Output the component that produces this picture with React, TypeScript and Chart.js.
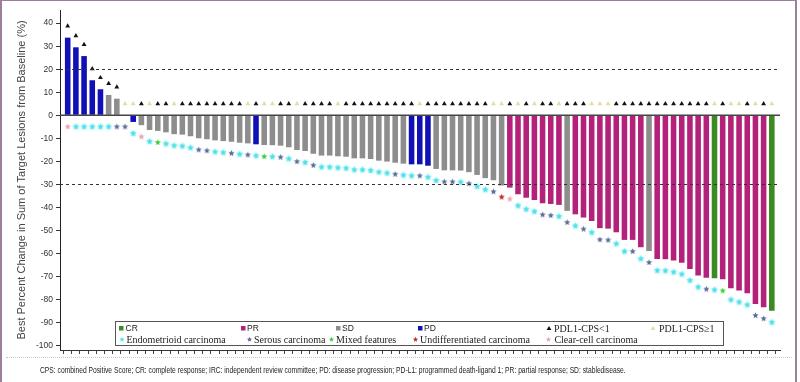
import React, { useEffect, useLayoutEffect, useRef } from "react";
import { Chart, registerables } from "chart.js";

Chart.register(...registerables);

// Best percent change per patient (sorted waterfall order)
const bestChange: number[] = [
  33.7, 29.5, 25.7, 15.2, 11.3, 8.8, 7.2, 0, -2.9, -4.3,
  -6.4, -6.8, -7.4, -8.2, -8.4, -9.1, -10.0, -10.4, -10.9, -11.2,
  -11.5, -11.9, -12.2, -12.6, -12.9, -13.0, -13.2, -13.9, -15.1, -15.5,
  -16.7, -17.5, -17.5, -17.8, -18.0, -18.7, -18.7, -19.0, -19.7, -20.1,
  -20.6, -21.0, -21.3, -21.3, -21.9, -23.3, -23.9, -23.9, -24.0, -24.7,
  -25.9, -27.3, -28.2, -30.5, -31.4, -34.3, -35.8, -36.8, -38.2, -38.5,
  -38.9, -41.5, -43.0, -44.4, -45.9, -49.0, -49.2, -50.8, -54.1, -54.1,
  -57.3, -58.9, -62.4, -62.5, -63.1, -64.0, -66.7, -69.6, -70.5, -70.8,
  -71.2, -75.1, -76.1, -77.3, -81.9, -83.3, -84.9,
];

// Best overall response per patient
const response: string[] = [
  "PD", "PD", "PD", "PD", "PD", "SD", "SD", "SD", "PD", "SD",
  "SD", "SD", "SD", "SD", "SD", "SD", "SD", "SD", "SD", "SD",
  "SD", "SD", "SD", "PD", "SD", "SD", "SD", "SD", "SD", "SD",
  "SD", "SD", "SD", "SD", "SD", "SD", "SD", "SD", "SD", "SD",
  "SD", "SD", "PD", "PD", "PD", "SD", "SD", "SD", "SD", "SD",
  "SD", "SD", "SD", "SD", "PR", "PR", "PR", "PR", "PR", "PR",
  "PR", "SD", "PR", "PR", "PR", "PR", "PR", "PR", "PR", "PR",
  "PR", "SD", "PR", "PR", "PR", "PR", "PR", "PR", "PR", "CR",
  "PR", "PR", "PR", "PR", "PR", "PR", "CR",
];

// PD-L1 status: L = CPS<1, H = CPS>=1
const pdl1: string[] = [
  "L", "L", "L", "L", "L", "L", "L", "H", "H", "L",
  "H", "L", "L", "H", "L", "L", "L", "L", "L", "L",
  "L", "L", "H", "L", "H", "H", "L", "L", "H", "L",
  "L", "L", "L", "H", "L", "L", "L", "L", "L", "L",
  "L", "L", "L", "H", "L", "L", "L", "L", "L", "L",
  "L", "L", "H", "H", "L", "H", "L", "H", "L", "L",
  "H", "L", "L", "L", "H", "H", "H", "L", "L", "L",
  "L", "L", "L", "L", "L", "L", "L", "L", "L", "H",
  "L", "H", "H", "L", "H", "L", "H",
];

// Histology: E endometrioid, S serous, M mixed, U undifferentiated, C clear-cell
const histology: string[] = [
  "C", "E", "E", "E", "E", "E", "S", "S", "E", "C",
  "E", "M", "E", "E", "E", "E", "S", "S", "E", "E",
  "S", "E", "S", "E", "M", "E", "S", "E", "S", "E",
  "S", "E", "E", "E", "E", "E", "E", "E", "E", "E",
  "S", "E", "E", "S", "E", "E", "S", "S", "E", "S",
  "E", "E", "S", "U", "C", "E", "E", "E", "S", "S",
  "E", "S", "E", "S", "E", "S", "S", "E", "E", "S",
  "E", "S", "E", "E", "E", "E", "E", "E", "S", "E",
  "M", "E", "E", "E", "S", "S", "E",
];

const yTicks: number[] = [40, 30, 20, 10, 0, -10, -20, -30, -40, -50, -60, -70, -80, -90, -100];
const refLines: number[] = [20, -30];

const yTitle = "Best Percent Change in Sum of Target Lesions from Baseline (%)";
const footnote =
  "CPS: combined Positive Score; CR: complete response; IRC: independent review committee; PD: disease progression; PD-L1: programmed death-ligand 1; PR: partial response; SD: stabledisease.";

const responseColors: Record<string, string> = {
  CR: "#3b8a22",
  PR: "#b3217b",
  SD: "#8d8d8d",
  PD: "#1010b6",
};
const pdl1Colors: Record<string, string> = { L: "#111111", H: "#e3dca4" };
const histColors: Record<string, string> = {
  E: "#52e0e8",
  S: "#5b6d9c",
  M: "#3dd03d",
  U: "#c42a2a",
  C: "#eaa4b4",
};

const responseLegend = [
  { key: "CR", label: "CR", sq: 119, tx: 125.5 },
  { key: "PR", label: "PR", sq: 241, tx: 247 },
  { key: "SD", label: "SD", sq: 336, tx: 342 },
  { key: "PD", label: "PD", sq: 418, tx: 424 },
];
const pdl1Legend = [
  { key: "L", label: "PDL1-CPS<1", mk: 549, tx: 554 },
  { key: "H", label: "PDL1-CPS\u22651", mk: 653, tx: 659 },
];
const histLegend = [
  { key: "E", label: "Endometrioid carcinoma", mk: 122, tx: 126.5 },
  { key: "S", label: "Serous carcinoma", mk: 249.5, tx: 254 },
  { key: "M", label: "Mixed features", mk: 331.5, tx: 336 },
  { key: "U", label: "Undifferentiated carcinoma", mk: 415.5, tx: 420 },
  { key: "C", label: "Clear-cell carcinoma", mk: 548.5, tx: 554.4 },
];

function starPath(ctx: CanvasRenderingContext2D, cx: number, cy: number, r: number) {
  ctx.beginPath();
  for (let k = 0; k < 10; k++) {
    const rad = k % 2 === 0 ? r : r * 0.45;
    const a = -Math.PI / 2 + (k * Math.PI) / 5;
    const px = cx + rad * Math.cos(a);
    const py = cy + rad * Math.sin(a);
    if (k === 0) ctx.moveTo(px, py);
    else ctx.lineTo(px, py);
  }
  ctx.closePath();
}

function makeStar(color: string, r: number, glow: boolean): HTMLCanvasElement {
  const size = Math.ceil(r * 2 + 6);
  const c = document.createElement("canvas");
  c.width = size;
  c.height = size;
  const ctx = c.getContext("2d")!;
  if (glow) {
    ctx.shadowColor = color;
    ctx.shadowBlur = 2.5;
  }
  starPath(ctx, size / 2, size / 2, r);
  ctx.fillStyle = color;
  ctx.fill();
  return c;
}

export default function App() {
  const canvasRef = useRef<HTMLCanvasElement>(null);
  const noteRef = useRef<HTMLSpanElement>(null);

  useLayoutEffect(() => {
    const el = noteRef.current;
    if (!el) return;
    const w = el.offsetWidth;
    if (w > 0) el.style.transform = `scaleX(${586 / w})`;
  }, []);

  useEffect(() => {
    const canvas = canvasRef.current;
    if (!canvas) return;

    const starImgs: Record<string, HTMLCanvasElement> = {};
    Object.keys(histColors).forEach((k) => {
      starImgs[k] = makeStar(histColors[k], 3.3, k === "E");
    });

    const barData = bestChange.map((v, i) => ({ x: i, y: v }));
    const triData = bestChange.map((v, i) => ({ x: i, y: Math.max(v, 0) + 5 }));
    const starData = bestChange.map((v, i) => ({ x: i, y: Math.min(v, 0) - 5 }));

    const overlay = {
      id: "overlay",
      afterDatasetsDraw(chart: any) {
        const { ctx, chartArea, scales } = chart;
        const ys = scales.y;
        ctx.save();
        ctx.strokeStyle = "#333";
        ctx.lineWidth = 1;
        ctx.setLineDash([3, 3]);
        refLines.forEach((v) => {
          const y = Math.round(ys.getPixelForValue(v)) + 0.5;
          ctx.beginPath();
          ctx.moveTo(chartArea.left, y);
          ctx.lineTo(chartArea.right, y);
          ctx.stroke();
        });
        ctx.setLineDash([]);
        ctx.strokeStyle = "#444";
        ctx.lineWidth = 1.3;
        const y0 = ys.getPixelForValue(0);
        ctx.beginPath();
        ctx.moveTo(chartArea.left, y0);
        ctx.lineTo(chartArea.right, y0);
        ctx.stroke();
        ctx.restore();
      },
      afterDraw(chart: any) {
        const { ctx } = chart;
        ctx.save();
        const bx = 115.5, by = 321.5, bw = 608, bh = 24;
        ctx.fillStyle = "#ffffff";
        ctx.fillRect(bx, by, bw, bh);
        ctx.strokeStyle = "#555";
        ctx.lineWidth = 1;
        ctx.strokeRect(bx, by, bw, bh);
        const r1 = 328.5, r2 = 339.5;
        ctx.textBaseline = "middle";
        ctx.textAlign = "left";
        ctx.fillStyle = "#222";
        ctx.font = "8.5px 'Liberation Sans', Arial, sans-serif";
        responseLegend.forEach((it) => {
          ctx.fillStyle = responseColors[it.key];
          ctx.fillRect(it.sq, r1 - 2.5, 4.5, 4.5);
          ctx.fillStyle = "#222";
          ctx.fillText(it.label, it.tx, r1 + 0.5);
        });
        ctx.font = "10px 'Liberation Serif', 'Times New Roman', serif";
        pdl1Legend.forEach((it) => {
          ctx.fillStyle = pdl1Colors[it.key];
          ctx.beginPath();
          ctx.moveTo(it.mk, r1 - 2.6);
          ctx.lineTo(it.mk + 2.4, r1 + 1.6);
          ctx.lineTo(it.mk - 2.4, r1 + 1.6);
          ctx.closePath();
          ctx.fill();
          ctx.fillStyle = "#222";
          ctx.fillText(it.label, it.tx, r1 + 0.5);
        });
        histLegend.forEach((it) => {
          ctx.fillStyle = histColors[it.key];
          starPath(ctx, it.mk, r2, 2.7);
          ctx.fill();
          ctx.fillStyle = "#222";
          ctx.fillText(it.label, it.tx, r2 + 0.5);
        });
        ctx.restore();
      },
    };

    const chart = new Chart(canvas, {
      type: "bar",
      data: {
        datasets: [
          {
            type: "scatter",
            label: "PD-L1",
            data: triData,
            pointStyle: "triangle",
            pointRadius: 2.8,
            pointBorderWidth: 0,
            pointBackgroundColor: pdl1.map((p) => pdl1Colors[p]),
            pointBorderColor: pdl1.map((p) => pdl1Colors[p]),
            order: 1,
          } as any,
          {
            type: "scatter",
            label: "Histology",
            data: starData,
            pointStyle: histology.map((h) => starImgs[h]) as any,
            pointRadius: 3,
            order: 2,
          } as any,
          {
            type: "bar",
            label: "Best change",
            data: barData,
            backgroundColor: response.map((r) => responseColors[r]),
            borderWidth: 0,
            barPercentage: 0.68,
            categoryPercentage: 1,
            order: 3,
          } as any,
        ],
      },
      options: {
        responsive: false,
        animation: false,
        devicePixelRatio: 1,
        layout: { padding: { left: 0, right: 20, top: 10, bottom: 28 } },
        plugins: { legend: { display: false }, tooltip: { enabled: false } },
        scales: {
          x: {
            type: "linear",
            min: -0.94,
            max: 87.0,
            offset: false,
            afterBuildTicks: (s: any) => {
              s.ticks = bestChange.map((_, i) => ({ value: i }));
            },
            afterFit: (s: any) => {
              s.height = 4;
            },
            grid: {
              display: true,
              drawOnChartArea: false,
              drawTicks: true,
              tickLength: 4,
              color: "#444",
            },
            border: { display: true, color: "#333", width: 1 },
            ticks: { display: false },
          },
          y: {
            type: "linear",
            min: -101.9,
            max: 45.7,
            afterBuildTicks: (s: any) => {
              s.ticks = yTicks.map((v) => ({ value: v }));
            },
            afterFit: (s: any) => {
              s.width = 60;
            },
            grid: {
              drawOnChartArea: false,
              drawTicks: true,
              tickLength: 4,
              color: "#333",
            },
            border: { display: true, color: "#222", width: 1 },
            ticks: {
              padding: 3,
              color: "#333",
              font: { family: "'Liberation Sans', Arial, sans-serif", size: 8.5 },
            },
            title: {
              display: true,
              text: yTitle,
              color: "#444",
              font: { family: "'Liberation Sans', Arial, sans-serif", size: 11 },
              padding: { top: 15, bottom: 0 },
            },
          },
        },
      },
      plugins: [overlay],
    } as any);

    return () => chart.destroy();
  }, []);

  return (
    <div
      style={{
        position: "fixed",
        left: 0,
        top: 0,
        width: 800,
        height: 382,
        overflow: "hidden",
        background: "#fff",
      }}
    >
      <canvas
        ref={canvasRef}
        width={800}
        height={382}
        style={{ position: "absolute", left: 0, top: 0, width: 800, height: 382 }}
      />
      <div
        style={{
          position: "absolute",
          left: 6,
          right: 8,
          top: 357,
          borderTop: "1px dotted #c8c8c8",
        }}
      />
      <span
        ref={noteRef}
        style={{
          position: "absolute",
          left: 40,
          top: 364,
          fontFamily: "'Liberation Sans', Arial, sans-serif",
          fontSize: 9.5,
          lineHeight: "12px",
          color: "#222",
          whiteSpace: "nowrap",
          display: "inline-block",
          transformOrigin: "0 0",
        }}
      >
        {footnote}
      </span>
      <div
        style={{
          position: "absolute",
          left: 0,
          top: 0,
          width: 797,
          height: 400,
          boxSizing: "border-box",
          borderLeft: "2px solid #9c7e9c",
          borderTop: "1px solid #9c7e9c",
          borderRight: "2px solid #9c7e9c",
          pointerEvents: "none",
        }}
      />
    </div>
  );
}
